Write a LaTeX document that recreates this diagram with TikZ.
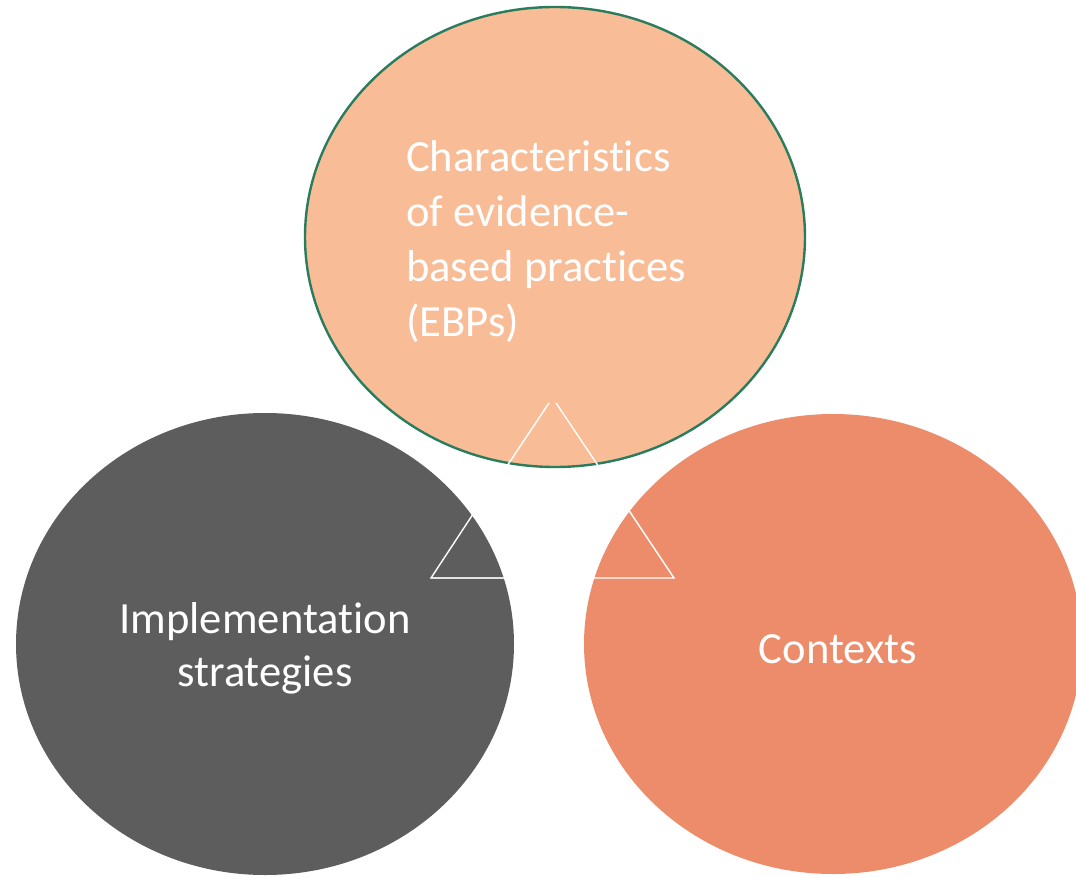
\documentclass[tikz,border=0pt]{standalone}
\usepackage{fontspec}
\setmainfont{Carlito}[Ligatures={NoCommon,NoDiscretionary,NoRare}]
\definecolor{peach}{HTML}{F8BC96}
\definecolor{rimgreen}{HTML}{2A7D5C}
\definecolor{darkgrey}{HTML}{5D5D5D}
\definecolor{salmon}{HTML}{EC8C6B}
\begin{document}
\begin{tikzpicture}[x=1pt,y=-1pt,
  lbl/.style={text=white,inner sep=0pt,font=\fontsize{44.6}{54.5}\selectfont},
  tri/.style={draw=white,line width=1.4pt,line join=miter}]
\useasboundingbox (0,0) rectangle (1076,877);
\begin{scope}
\clip (0,0) rectangle (1076,877);
% ellipses
\fill[darkgrey] (265,644) ellipse [x radius=249, y radius=231];
\fill[salmon] (833,644) ellipse [x radius=249, y radius=230];
\filldraw[fill=peach,draw=rimgreen,line width=2.4pt] (555,237) ellipse [x radius=250, y radius=230];
\end{scope}
% triangle marks
\coordinate (t1a) at (507,466);
\coordinate (t1b) at (549,403);
\coordinate (t1c) at (556,403);
\coordinate (t1d) at (599,467);
\draw[tri] (t1a) -- (t1b);
\draw[tri] (t1c) -- (t1d);
\coordinate (t2a) at (431,578);
\coordinate (t2b) at (477,508);
\coordinate (t2c) at (523,578);
\draw[tri] (t2c) -- (t2a) -- (t2b);
\begin{scope}
\clip (265,644) ellipse [x radius=249, y radius=231];
\draw[draw=white!82!darkgrey,line width=1.4pt] (t2a) -- (t2c);
\end{scope}
\coordinate (t3a) at (582,578);
\coordinate (t3b) at (628,509);
\coordinate (t3c) at (674,578);
\draw[tri] (t3a) -- (t3b) -- (t3c) -- cycle;
% labels
\node[lbl,anchor=base west] (ebp) at (406,172)
  {\parbox[t]{320pt}{\raggedright\fontsize{44.6}{55}\selectfont Characteristics\\of evidence-\\based practices\\(EBPs)}};
\node[lbl,anchor=base] (impl) at (265,633)
  {\parbox[t]{400pt}{\centering\fontsize{44.6}{53}\selectfont Implementation\\strategies}};
\node[lbl,anchor=base] (ctx) at (838,663) {Contexts};
\end{tikzpicture}
\end{document}
